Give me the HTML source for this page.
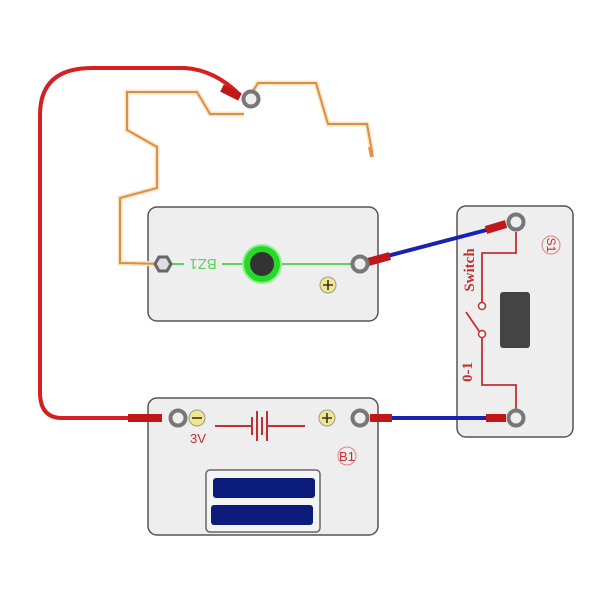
<!DOCTYPE html>
<html><head><style>body{margin:0;background:#fff}svg{display:block}</style></head><body>
<svg width="600" height="600" viewBox="0 0 600 600" xmlns="http://www.w3.org/2000/svg" font-family="Liberation Sans, sans-serif">
<rect x="148" y="207" width="230" height="114" rx="9" fill="#eeeeee" stroke="#555" stroke-width="1.5"/>
<rect x="457" y="206" width="116" height="231" rx="9" fill="#eeeeee" stroke="#555" stroke-width="1.5"/>
<rect x="148" y="398" width="230" height="137" rx="9" fill="#eeeeee" stroke="#555" stroke-width="1.5"/>
<polyline points="248,99 258,83 316,83 328,124 367,124 372,152" fill="none" stroke="#fbe3c8" stroke-width="5"/>
<polyline points="248,99 258,83 316,83 328,124 367,124 372,152" fill="none" stroke="#d8913f" stroke-width="2"/>
<polyline points="244,114 210,114 197,92 127,92 127,130 157,147 157,188 120,198 120,263 163,264" fill="none" stroke="#fbe3c8" stroke-width="5"/>
<polyline points="244,114 210,114 197,92 127,92 127,130 157,147 157,188 120,198 120,263 163,264" fill="none" stroke="#d8913f" stroke-width="2"/>
<line x1="370" y1="147" x2="372" y2="157" stroke="#e8904a" stroke-width="4"/>
<line x1="172" y1="264" x2="360" y2="264" stroke="#5fd35f" stroke-width="2"/>
<rect x="184" y="256" width="38" height="16" fill="#eeeeee"/>
<text x="203" y="269" font-size="15" fill="#5fd35f" transform="rotate(180 203 264)" text-anchor="middle">BZ1</text>
<circle cx="262" cy="264" r="20" fill="#8cf08c"/>
<circle cx="262" cy="264" r="18" fill="#27d827"/>
<circle cx="262" cy="264" r="12" fill="#333"/>
<polygon points="155,264 159,257 167,257 171,264 167,271 159,271" fill="#ddd" stroke="#666" stroke-width="3"/>
<circle cx="328" cy="285" r="8" fill="#f0e68c" stroke="#999" stroke-width="1"/>
<path d="M323 285h10M328 280v10" stroke="#333" stroke-width="1.6"/>
<path d="M215 426h37M252 417v18M257 411v30M262 417v18M267 411v30M267 426h38" stroke="#c03030" stroke-width="2" fill="none"/>
<circle cx="197" cy="418" r="8" fill="#f0e68c" stroke="#999"/>
<path d="M192 418h10" stroke="#333" stroke-width="1.6"/>
<circle cx="327" cy="418" r="8" fill="#f0e68c" stroke="#999"/>
<path d="M322 418h10M327 413v10" stroke="#333" stroke-width="1.6"/>
<text x="190" y="443" font-size="13" fill="#c03030">3V</text>
<circle cx="347" cy="456" r="9" fill="none" stroke="#e08080"/>
<text x="347" y="461" font-size="13" fill="#c03030" text-anchor="middle">B1</text>
<rect x="206" y="470" width="114" height="62" rx="4" fill="#f4f4f4" stroke="#666" stroke-width="1.5"/>
<rect x="213" y="478" width="102" height="20" rx="3" fill="#0b1c7a"/>
<rect x="211" y="505" width="102" height="20" rx="3" fill="#0b1c7a"/>
<polyline points="516,232 516,253 482,253 482,302" fill="none" stroke="#c03030" stroke-width="1.8"/>
<polyline points="482,338 482,385 516,385 516,410" fill="none" stroke="#c03030" stroke-width="1.8"/>
<circle cx="482" cy="306" r="3.5" fill="#fff" stroke="#c03030" stroke-width="1.5"/>
<circle cx="482" cy="334" r="3.5" fill="#fff" stroke="#c03030" stroke-width="1.5"/>
<line x1="479" y1="331" x2="466" y2="312" stroke="#c03030" stroke-width="1.8"/>
<rect x="500" y="292" width="30" height="56" rx="3" fill="#444"/>
<text x="474" y="270" font-size="15" font-family="Liberation Serif, serif" font-weight="bold" fill="#c03030" transform="rotate(-90 474 270)" text-anchor="middle">Switch</text>
<text x="472" y="372" font-size="15" font-family="Liberation Serif, serif" font-weight="bold" fill="#c03030" transform="rotate(-90 472 372)" text-anchor="middle">0-1</text>
<circle cx="551" cy="245" r="9" fill="none" stroke="#e08080"/>
<text x="551" y="249" font-size="12" fill="#c03030" transform="rotate(90 551 245)" text-anchor="middle">S1</text>
<path d="M140 418H62Q40 418 40 392V115Q40 68 92 68H185Q215 70 240 95" fill="none" stroke="#d42020" stroke-width="4"/>
<line x1="372" y1="260" x2="498" y2="227" stroke="#1a22b0" stroke-width="4"/>
<line x1="372" y1="418" x2="498" y2="418" stroke="#1a22b0" stroke-width="4"/>
<line x1="222" y1="88" x2="240" y2="97" stroke="#c01818" stroke-width="8"/>
<line x1="128" y1="418" x2="162" y2="418" stroke="#c01818" stroke-width="8"/>
<line x1="368" y1="262" x2="390" y2="256" stroke="#c01818" stroke-width="8"/>
<line x1="370" y1="418" x2="392" y2="418" stroke="#c01818" stroke-width="8"/>
<line x1="486" y1="230" x2="506" y2="224" stroke="#c01818" stroke-width="8"/>
<line x1="486" y1="418" x2="506" y2="418" stroke="#c01818" stroke-width="8"/>
<g fill="#eee" stroke="#777" stroke-width="4">
<circle cx="251" cy="99" r="7.5"/>
<circle cx="360" cy="264" r="7.5"/>
<circle cx="178" cy="418" r="7.5"/>
<circle cx="360" cy="418" r="7.5"/>
<circle cx="516" cy="222" r="7.5"/>
<circle cx="516" cy="418" r="7.5"/>
</g>
</svg>
</body></html>
